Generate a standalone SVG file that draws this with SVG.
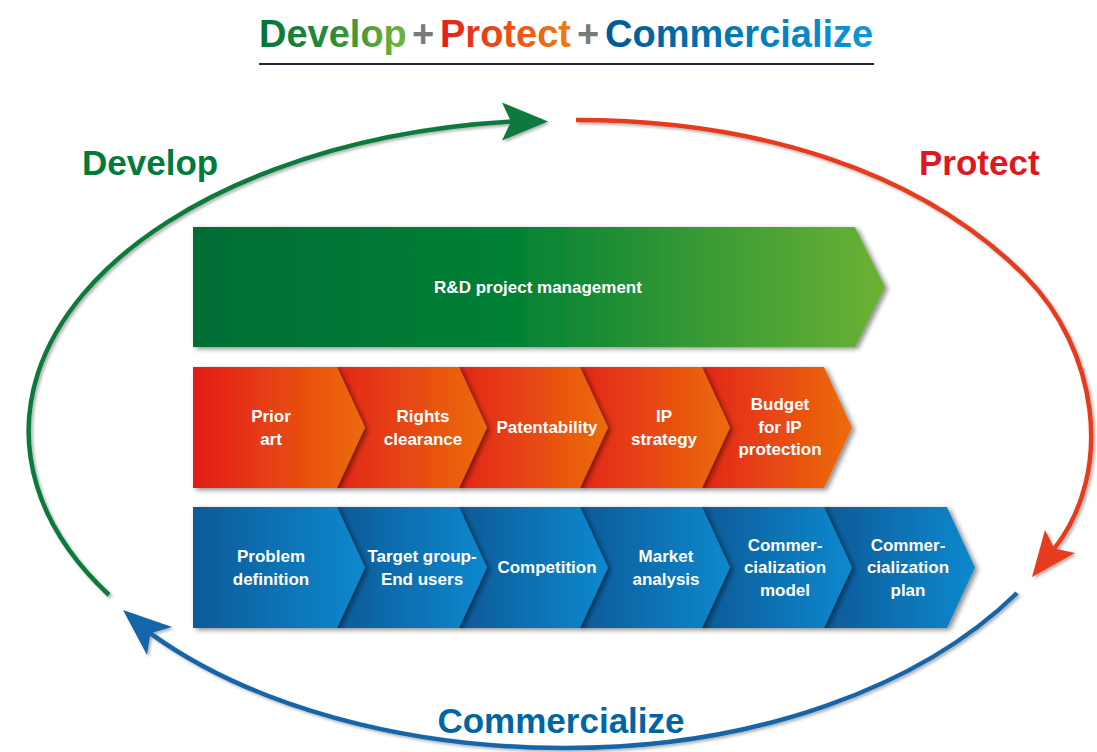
<svg xmlns="http://www.w3.org/2000/svg" width="1097" height="752" viewBox="0 0 1097 752">
<defs>
<style>
.lbl{font-family:"Liberation Sans",Arial,sans-serif;font-weight:bold;font-size:17px;fill:#ffffff;text-anchor:middle}
.big{font-family:"Liberation Sans",Arial,sans-serif;font-weight:bold;font-size:35px}
.hdr{font-family:"Liberation Sans",Arial,sans-serif;font-weight:bold;font-size:38px}
.arc{fill:none;stroke-width:4.5;stroke-linecap:butt}
</style>
<linearGradient id="gGreen" x1="0" y1="0" x2="1" y2="0">
<stop offset="0" stop-color="#006c36"/><stop offset="0.45" stop-color="#008035"/><stop offset="1" stop-color="#6cb233"/>
</linearGradient>
<linearGradient id="gOrange" x1="0" y1="0" x2="1" y2="0">
<stop offset="0" stop-color="#e3261a"/><stop offset="1" stop-color="#ec6c0b"/>
</linearGradient>
<linearGradient id="gOrange0" x1="0" y1="0" x2="1" y2="0">
<stop offset="0" stop-color="#e21b19"/><stop offset="1" stop-color="#ec6c0b"/>
</linearGradient>
<linearGradient id="gBlue" x1="0" y1="0" x2="1" y2="0">
<stop offset="0" stop-color="#0b5a98"/><stop offset="1" stop-color="#0a89ce"/>
</linearGradient>
<linearGradient id="hDev" gradientUnits="userSpaceOnUse" x1="259" y1="0" x2="407" y2="0">
<stop offset="0" stop-color="#00753a"/><stop offset="0.5" stop-color="#2a8d3a"/><stop offset="1" stop-color="#74b53c"/>
</linearGradient>
<linearGradient id="hPro" gradientUnits="userSpaceOnUse" x1="440" y1="0" x2="571" y2="0">
<stop offset="0" stop-color="#e31f1c"/><stop offset="1" stop-color="#ef7d10"/>
</linearGradient>
<linearGradient id="hCom" gradientUnits="userSpaceOnUse" x1="605" y1="0" x2="873" y2="0">
<stop offset="0" stop-color="#005994"/><stop offset="1" stop-color="#0b97d9"/>
</linearGradient>
<filter id="sh" x="-10%" y="-10%" width="130%" height="130%">
<feDropShadow dx="3" dy="2" stdDeviation="2.5" flood-color="#000" flood-opacity="0.45"/>
</filter>
<filter id="ash" x="-10%" y="-10%" width="130%" height="130%">
<feDropShadow dx="2" dy="2" stdDeviation="1.5" flood-color="#000" flood-opacity="0.3"/>
</filter>
</defs>

<rect x="0" y="0" width="1097" height="752" fill="#ffffff"/>

<g id="header">
<text class="hdr" x="259" y="47" fill="url(#hDev)">Develop</text>
<text class="hdr" x="423" y="47" fill="#7a7a7a" text-anchor="middle">+</text>
<text class="hdr" x="440" y="47" fill="url(#hPro)">Protect</text>
<text class="hdr" x="588" y="47" fill="#7a7a7a" text-anchor="middle">+</text>
<text class="hdr" x="605" y="47" fill="url(#hCom)">Commercialize</text>
<line x1="259" y1="64" x2="874" y2="64" stroke="#262636" stroke-width="2"/>
</g>

<g id="connectors">
<g id="arc-develop" filter="url(#ash)">
<path class="arc" stroke="#0a7a3c" d="M109,595 A535,311 0 0 1 512,121.5"/>
<polygon fill="#0a7a3c" points="548,121.5 502,102.5 511,121.5 502,140.5"/>
</g>
<g id="arc-protect" filter="url(#ash)">
<path class="arc" stroke="#e63b1e" d="M576,120 C756,120 921,170.5 1026,277 C1096,348 1116,469.6 1054.3,548.6"/>
<polygon fill="#e63b1e" points="1032,577 1045,530 1054.3,548.6 1075,553"/>
</g>
<g id="arc-commercialize" filter="url(#ash)">
<path class="arc" stroke="#1565a8" d="M1017,593 C920.8,687.2 754.4,748 565,748 C405,748 252,706.5 150.4,633.3"/>
<polygon fill="#1565a8" points="123,610 172,627 150.4,633.3 147,655"/>
</g>
</g>

<g id="lbl-develop"><text class="big" x="82" y="175" fill="#007a3d">Develop</text></g>
<g id="lbl-protect"><text class="big" x="919" y="175" fill="#e2161f">Protect</text></g>
<g id="lbl-commercialize"><text class="big" x="561" y="733" fill="#0065a6" text-anchor="middle">Commercialize</text></g>

<g id="rd">
<path filter="url(#sh)" fill="url(#gGreen)" d="M193,227 H855 L885,287 L855,347 H193 Z"/>
<text class="lbl" x="538" y="293">R&amp;D project management</text>
</g>

<g id="protect-row">
<g id="p5">
<path filter="url(#sh)" fill="url(#gOrange)" d="M702,367 H824 L852,427.5 L824,488 H702 Z"/>
<text class="lbl" x="780" y="410">Budget</text><text class="lbl" x="780" y="433">for IP</text><text class="lbl" x="780" y="455">protection</text>
</g>
<g id="p4">
<path filter="url(#sh)" fill="url(#gOrange)" d="M580,367 H702 L730,427.5 L702,488 H580 Z"/>
<text class="lbl" x="664" y="422">IP</text><text class="lbl" x="664" y="445">strategy</text>
</g>
<g id="p3">
<path filter="url(#sh)" fill="url(#gOrange)" d="M459,367 H580 L608,427.5 L580,488 H459 Z"/>
<text class="lbl" x="547" y="433">Patentability</text>
</g>
<g id="p2">
<path filter="url(#sh)" fill="url(#gOrange)" d="M337,367 H459 L487,427.5 L459,488 H337 Z"/>
<text class="lbl" x="423" y="422">Rights</text><text class="lbl" x="423" y="445">clearance</text>
</g>
<g id="p1">
<path filter="url(#sh)" fill="url(#gOrange0)" d="M193,367 H337 L365,427.5 L337,488 H193 Z"/>
<text class="lbl" x="271" y="422">Prior</text><text class="lbl" x="271" y="445">art</text>
</g>
</g>

<g id="commercialize-row">
<g id="c6">
<path filter="url(#sh)" fill="url(#gBlue)" d="M824,507 H947 L975,567.5 L947,628 H824 Z"/>
<text class="lbl" x="908" y="551">Commer-</text><text class="lbl" x="908" y="573">cialization</text><text class="lbl" x="908" y="596">plan</text>
</g>
<g id="c5">
<path filter="url(#sh)" fill="url(#gBlue)" d="M702,507 H824 L852,567.5 L824,628 H702 Z"/>
<text class="lbl" x="785" y="551">Commer-</text><text class="lbl" x="785" y="573">cialization</text><text class="lbl" x="785" y="596">model</text>
</g>
<g id="c4">
<path filter="url(#sh)" fill="url(#gBlue)" d="M580,507 H702 L730,567.5 L702,628 H580 Z"/>
<text class="lbl" x="666" y="562">Market</text><text class="lbl" x="666" y="585">analysis</text>
</g>
<g id="c3">
<path filter="url(#sh)" fill="url(#gBlue)" d="M459,507 H580 L608,567.5 L580,628 H459 Z"/>
<text class="lbl" x="547" y="573">Competition</text>
</g>
<g id="c2">
<path filter="url(#sh)" fill="url(#gBlue)" d="M337,507 H459 L487,567.5 L459,628 H337 Z"/>
<text class="lbl" x="422" y="562">Target group-</text><text class="lbl" x="422" y="585">End users</text>
</g>
<g id="c1">
<path filter="url(#sh)" fill="url(#gBlue)" d="M193,507 H337 L365,567.5 L337,628 H193 Z"/>
<text class="lbl" x="271" y="562">Problem</text><text class="lbl" x="271" y="585">definition</text>
</g>
</g>
</svg>
